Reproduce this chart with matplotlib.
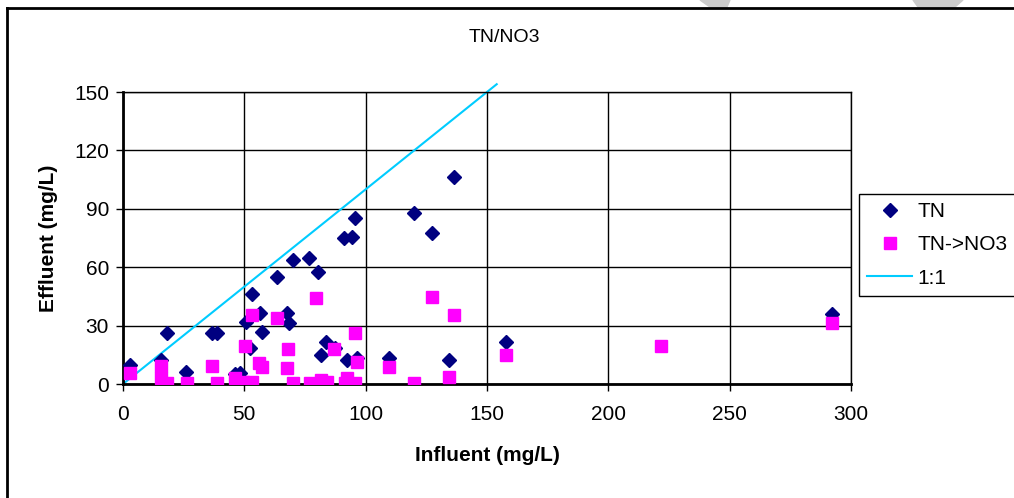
import matplotlib
matplotlib.use("Agg")
import matplotlib.pyplot as plt
from matplotlib.lines import Line2D
from matplotlib.patches import Polygon

plt.rcParams['font.family'] = ['Liberation Sans', 'DejaVu Sans']

# datos
tn_x = [2.9, 15.5, 18.3, 26.0, 36.5, 38.9, 46.1, 48.2, 50.5, 52.3, 53.3, 56.4,
        57.1, 63.3, 67.4, 68.4, 70.2, 76.7, 80.5, 81.5, 83.6, 87.3, 91.2, 92.2,
        94.5, 95.6, 96.3, 109.6, 120.0, 127.2, 134.3, 136.4, 157.8, 292.3]
tn_y = [10.0, 12.3, 26.0, 6.3, 26.0, 26.0, 5.0, 5.8, 32.0, 18.3, 46.2, 36.3,
        26.9, 55.0, 36.3, 31.2, 63.7, 64.5, 57.6, 14.9, 21.7, 18.3, 74.8, 12.3,
        75.3, 85.3, 13.2, 13.2, 87.7, 77.4, 12.3, 106.2, 21.7, 36.0]

no3_x = [2.9, 15.5, 15.5, 18.3, 26.2, 36.5, 38.9, 46.1, 49.6, 50.3, 53.0, 53.0,
         56.2, 57.1, 63.6, 67.4, 68.1, 70.2, 77.0, 79.5, 81.5, 83.9, 87.1, 91.5,
         92.2, 95.6, 95.6, 96.3, 109.6, 120.0, 127.2, 134.3, 136.4, 157.8, 221.8,
         292.3]
no3_y = [5.5, 9.2, 2.9, 0.4, 0.4, 9.2, 0.3, 2.9, 1.2, 19.5, 1.2, 35.4,
         10.6, 8.6, 33.7, 8.1, 17.8, 0.3, 0.5, 44.0, 2.0, 1.0, 17.8, 0.3,
         2.9, 26.3, 0.5, 11.5, 8.9, 0.3, 44.5, 3.4, 35.4, 14.9, 19.5,
         31.5]

line_x = [1, 154]
line_y = [1, 154]

W, H = 1014, 498
fig = plt.figure(figsize=(W / 100, H / 100), dpi=100)
ax = fig.add_axes([123 / W, 1 - 384 / H, (851 - 123) / W, (384 - 92) / H])

# marcas de agua grises arriba
fig.patches.append(Polygon([[700 / W, 1], [730 / W, 1], [727 / W, 1 - 7 / H], [710 / W, 1 - 7 / H]],
                           closed=True, transform=fig.transFigure, color='#cccccc', zorder=0))
fig.patches.append(Polygon([[913 / W, 1], [963 / W, 1], [955 / W, 1 - 7 / H], [918 / W, 1 - 7 / H]],
                           closed=True, transform=fig.transFigure, color='#cccccc', zorder=0))
# marco del grafico
fig.add_artist(Line2D([7 / W, 7 / W], [0, 1 - 8 / H], color='black', lw=2, transform=fig.transFigure))
fig.add_artist(Line2D([7 / W, 1], [1 - 8 / H, 1 - 8 / H], color='black', lw=2, transform=fig.transFigure))

ax.plot(line_x, line_y, color='#00CCFF', lw=1.5, clip_on=False, zorder=2)
ax.plot(tn_x, tn_y, 'D', color='#000080', markersize=7.5, linestyle='none', zorder=3)
ax.plot(no3_x, no3_y, 's', color='#FF00FF', markersize=9, linestyle='none', zorder=4)

ax.set_xlim(0, 300)
ax.set_ylim(0, 150)
ax.set_xticks(range(0, 301, 50))
ax.set_yticks(range(0, 151, 30))
ax.grid(True, color='black', lw=1)
ax.set_axisbelow(True)
for s in ['top', 'right']:
    ax.spines[s].set_linewidth(1)
for s in ['bottom', 'left']:
    ax.spines[s].set_linewidth(2)
ax.tick_params(direction='out', length=5, width=1, labelsize=15)
ax.tick_params(axis='x', pad=10)
ax.tick_params(axis='y', pad=5)

ax.set_xlabel('Influent (mg/L)', fontsize=15, fontweight='bold')
ax.set_ylabel('Effluent (mg/L)', fontsize=15, fontweight='bold')
ax.xaxis.set_label_coords(0.5, (384 - 446) / 292)
ax.yaxis.set_label_coords((58 - 123) / 728, 0.5)
fig.text(504 / W, 1 - 37 / H, 'TN/NO3', fontsize=14, ha='center', va='center')

handles = [
    Line2D([], [], marker='D', color='#000080', linestyle='none', markersize=7.5),
    Line2D([], [], marker='s', color='#FF00FF', linestyle='none', markersize=9),
    Line2D([], [], color='#00CCFF', lw=1.5),
]
leg = fig.legend(handles, ['TN', 'TN->NO3', '1:1'], loc='upper left',
                 bbox_to_anchor=(859 / W, 1 - 194 / H), fontsize=15,
                 frameon=True, fancybox=False, edgecolor='black', framealpha=1,
                 borderaxespad=0, borderpad=0.4, handlelength=2.16,
                 labelspacing=0.68, handletextpad=0.25)
leg.get_frame().set_linewidth(1)

fig.savefig('out.png', dpi=100)
